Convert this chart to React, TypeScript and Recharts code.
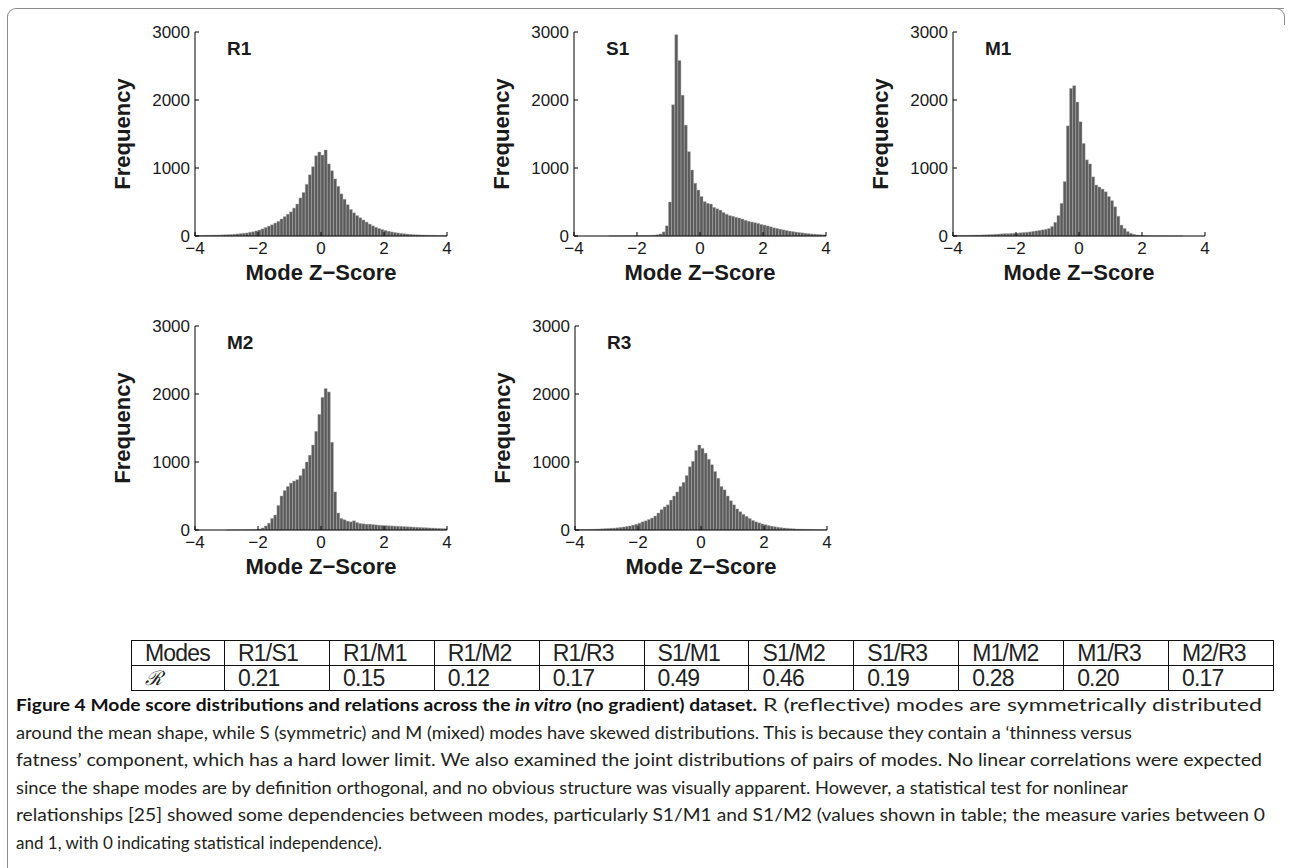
import React from 'react';
import { BarChart, Bar, XAxis, YAxis } from 'recharts';

// histogram bin centres (bin width 0.1)
const binCenters = [
  -3.95, -3.85, -3.75, -3.65, -3.55, -3.45, -3.35, -3.25, -3.15, -3.05,
  -2.95, -2.85, -2.75, -2.65, -2.55, -2.45, -2.35, -2.25, -2.15, -2.05,
  -1.95, -1.85, -1.75, -1.65, -1.55, -1.45, -1.35, -1.25, -1.15, -1.05,
  -0.95, -0.85, -0.75, -0.65, -0.55, -0.45, -0.35, -0.25, -0.15, -0.05,
  0.05, 0.15, 0.25, 0.35, 0.45, 0.55, 0.65, 0.75, 0.85, 0.95,
  1.05, 1.15, 1.25, 1.35, 1.45, 1.55, 1.65, 1.75, 1.85, 1.95,
  2.05, 2.15, 2.25, 2.35, 2.45, 2.55, 2.65, 2.75, 2.85, 2.95,
  3.05, 3.15, 3.25, 3.35, 3.45, 3.55, 3.65, 3.75, 3.85, 3.95,
];

const r1Counts = [
  8, 8, 9, 10, 10, 12, 12, 14, 16, 18,
  20, 22, 26, 30, 35, 40, 45, 55, 62, 75,
  88, 105, 125, 145, 165, 190, 215, 250, 285, 320,
  355, 410, 470, 560, 640, 760, 900, 1020, 1180, 1235,
  1190, 1265, 1060, 960, 840, 730, 620, 540, 460, 390,
  340, 300, 270, 235, 205, 175, 150, 128, 110, 95,
  82, 70, 60, 52, 45, 38, 33, 28, 24, 20,
  18, 16, 14, 12, 11, 10, 9, 8, 7, 6,
];

const s1Counts = [
  0, 0, 0, 0, 0, 0, 0, 0, 0, 0,
  0, 1, 1, 1, 2, 2, 3, 3, 4, 4,
  5, 5, 6, 7, 8, 12, 18, 30, 60, 150,
  500, 1930, 2960, 2580, 2070, 1630, 1240, 970, 775, 675,
  580, 505, 480, 470, 420, 400, 380, 345, 320, 300,
  290, 275, 265, 250, 230, 215, 205, 195, 185, 170,
  160, 148, 135, 120, 110, 100, 90, 80, 72, 65,
  58, 52, 46, 40, 35, 30, 27, 23, 20, 17,
];

const m1Counts = [
  8, 8, 9, 10, 10, 11, 12, 13, 14, 16,
  18, 20, 22, 25, 28, 32, 35, 35, 38, 40,
  42, 48, 52, 55, 60, 68, 75, 82, 90, 98,
  110, 140, 200, 300, 480, 800, 1620, 2170, 2210, 1970,
  1680, 1360, 1120, 1060, 870, 750, 720, 690, 650, 580,
  520, 430, 290, 160, 110, 65, 40, 25, 15, 10,
  7, 5, 4, 3, 3, 2, 2, 2, 1, 1,
  1, 1, 1, 0, 0, 0, 0, 0, 0, 0,
];

const m2Counts = [
  0, 0, 0, 0, 0, 0, 0, 0, 0, 0,
  1, 1, 1, 2, 2, 3, 4, 5, 6, 8,
  15, 30, 60, 100, 170, 220, 360, 500, 580, 640,
  690, 720, 740, 800, 900, 1000, 1100, 1250, 1450, 1700,
  1950, 2080, 2030, 1290, 560, 250, 170, 150, 130, 120,
  135, 110, 95, 90, 85, 85, 80, 75, 70, 68,
  65, 62, 60, 57, 55, 52, 50, 47, 45, 42,
  40, 38, 35, 33, 30, 28, 26, 24, 22, 20,
];

const r3Counts = [
  5, 6, 7, 8, 9, 10, 12, 14, 17, 20,
  23, 26, 28, 32, 38, 44, 52, 60, 72, 85,
  100, 120, 135, 155, 175, 205, 250, 300, 340, 370,
  440, 500, 560, 640, 700, 800, 930, 1010, 1170, 1250,
  1200, 1130, 1040, 960, 860, 760, 640, 590, 500, 430,
  370, 310, 270, 230, 200, 170, 140, 120, 105, 90,
  78, 66, 56, 48, 40, 34, 29, 25, 21, 18,
  15, 13, 11, 10, 9, 8, 7, 6, 5, 5,
];

const xTicks = [-4, -2, 0, 2, 4];
const yTicks = [0, 1000, 2000, 3000];

const modePairs = ['R1/S1', 'R1/M1', 'R1/M2', 'R1/R3', 'S1/M1', 'S1/M2', 'S1/R3', 'M1/M2', 'M1/R3', 'M2/R3'];
const dependence = ['0.21', '0.15', '0.12', '0.17', '0.49', '0.46', '0.19', '0.28', '0.20', '0.17'];

const captionTitle = 'Figure 4 Mode score distributions and relations across the ';
const captionTitleEnd = ' (no gradient) dataset.';
const captionFirst = 'R (reflective) modes are symmetrically distributed';
const captionLines = [
  'around the mean shape, while S (symmetric) and M (mixed) modes have skewed distributions. This is because they contain a \u2018thinness versus',
  'fatness\u2019 component, which has a hard lower limit. We also examined the joint distributions of pairs of modes. No linear correlations were expected',
  'since the shape modes are by definition orthogonal, and no obvious structure was visually apparent. However, a statistical test for nonlinear',
  'relationships [25] showed some dependencies between modes, particularly S1/M1 and S1/M2 (values shown in table; the measure varies between 0',
  'and 1, with 0 indicating statistical independence).',
];
// measured right ends of the caption lines in the figure
const captionLineEnds = [1132, 1262, 1128, 1265, 382];

const SANS = "'Liberation Sans', Arial, Helvetica, sans-serif";
const CAPTION_FONT = "Lato, 'Open Sans', sans-serif";
const PLOT_W = 252;
const PLOT_H = 204;
const ML = 90;
const MT = 20;

const fmt = (v: number) => (v < 0 ? '\u2212' + Math.abs(v) : String(v));

const Histogram = ({ title, counts, left, top }: { title: string; counts: number[]; left: number; top: number }) => {
  const data = binCenters.map((x, i) => ({ x, count: counts[i] }));
  const tickStyle = { fontSize: 17, fill: '#1a1a1a', fontFamily: SANS };
  return (
    <div style={{ position: 'absolute', left: left - ML, top: top - MT, width: PLOT_W + ML + 20, height: PLOT_H + MT + 70 }}>
      <BarChart
        width={PLOT_W + ML + 20}
        height={PLOT_H + MT + 70}
        data={data}
        margin={{ top: MT, right: 20, bottom: 40, left: ML - 60 }}
        barCategoryGap={0}
        barGap={0}
      >
        <XAxis
          dataKey="x"
          type="number"
          domain={[-4, 4]}
          ticks={xTicks}
          tickFormatter={fmt}
          tickSize={-4}
          tickMargin={10}
          stroke="#000"
          tick={tickStyle}
          interval={0}
          height={30}
        />
        <YAxis
          type="number"
          domain={[0, 3000]}
          ticks={yTicks}
          tickSize={-4}
          tickMargin={9}
          stroke="#000"
          tick={tickStyle}
          interval={0}
          width={60}
        />
        <Bar dataKey="count" fill="#5b5b5b" stroke="#a8a8a8" strokeWidth={0.4} isAnimationActive={false} />
      </BarChart>
      <div style={{ position: 'absolute', left: ML + 32, top: MT + 7, fontFamily: SANS, fontWeight: 'bold', fontSize: 19, lineHeight: 1, color: '#1a1a1a' }}>
        {title}
      </div>
      <div
        style={{
          position: 'absolute', left: ML - 72, top: MT + PLOT_H / 2, transform: 'translate(-50%, -50%) rotate(-90deg)',
          fontFamily: SANS, fontWeight: 'bold', fontSize: 22, whiteSpace: 'nowrap', color: '#1a1a1a',
        }}
      >
        Frequency
      </div>
      <div
        style={{
          position: 'absolute', left: ML + PLOT_W / 2, top: MT + PLOT_H + 37, transform: 'translate(-50%, -50%)',
          fontFamily: SANS, fontWeight: 'bold', fontSize: 22, whiteSpace: 'nowrap', color: '#1a1a1a',
        }}
      >
        Mode Z{'\u2212'}Score
      </div>
    </div>
  );
};

const cellStyle: React.CSSProperties = {
  border: '1.5px solid #111',
  padding: '0 0 0 13px',
  textAlign: 'left',
  height: 24,
  fontFamily: SANS,
  fontSize: 23,
  lineHeight: '22px',
  color: '#222',
  letterSpacing: -0.8,
};

export default function App() {
  return (
    <div style={{ position: 'absolute', left: 0, top: 0, width: 1291, height: 868, overflow: 'hidden', background: '#fff' }}>
      <div style={{ position: 'absolute', left: 7, top: 8, width: 1276, height: 900, borderTop: '1px solid #8c8c8c', borderLeft: '1px solid #8c8c8c', borderTopLeftRadius: 9 }} />
      <div style={{ position: 'absolute', left: 1270, top: 8, width: 14, height: 16, borderTop: '1px solid #8c8c8c', borderRight: '1px solid #8c8c8c', borderTopRightRadius: 9 }} />

      <Histogram title="R1" counts={r1Counts} left={195} top={32} />
      <Histogram title="S1" counts={s1Counts} left={574} top={32} />
      <Histogram title="M1" counts={m1Counts} left={953} top={32} />
      <Histogram title="M2" counts={m2Counts} left={195} top={326} />
      <Histogram title="R3" counts={r3Counts} left={575} top={326} />

      <table style={{ position: 'absolute', left: 131, top: 640, width: 1143, borderCollapse: 'collapse', tableLayout: 'fixed' }}>
        <colgroup>
          <col style={{ width: 93 }} />
          {modePairs.map((p) => (
            <col key={p} />
          ))}
        </colgroup>
        <tbody>
          <tr>
            <td style={cellStyle}>Modes</td>
            {modePairs.map((p) => (
              <td key={p} style={cellStyle}>{p}</td>
            ))}
          </tr>
          <tr>
            <td style={{ ...cellStyle, fontFamily: "'DejaVu Serif', serif", fontStyle: 'italic', fontSize: 20 }}>{'\u211B'}</td>
            {dependence.map((v, i) => (
              <td key={i} style={cellStyle}>{v}</td>
            ))}
          </tr>
        </tbody>
      </table>

      <svg width={1291} height={178} style={{ position: 'absolute', left: 0, top: 690 }}>
        <g fontFamily={CAPTION_FONT} fontSize={17.5}>
          <text x={16} y={21} textLength={741} lengthAdjust="spacingAndGlyphs" fontWeight="bold" fill="#111">
            {captionTitle}
            <tspan fontStyle="italic">in vitro</tspan>
            {captionTitleEnd}
          </text>
          <text x={763} y={21} textLength={499} lengthAdjust="spacingAndGlyphs" fill="#231f20">
            {captionFirst}
          </text>
          {captionLines.map((l, i) => (
            <text key={i} x={16} y={21 + 27.6 * (i + 1)} textLength={captionLineEnds[i] - 16} lengthAdjust="spacingAndGlyphs" fill="#231f20">
              {l}
            </text>
          ))}
        </g>
      </svg>
    </div>
  );
}
